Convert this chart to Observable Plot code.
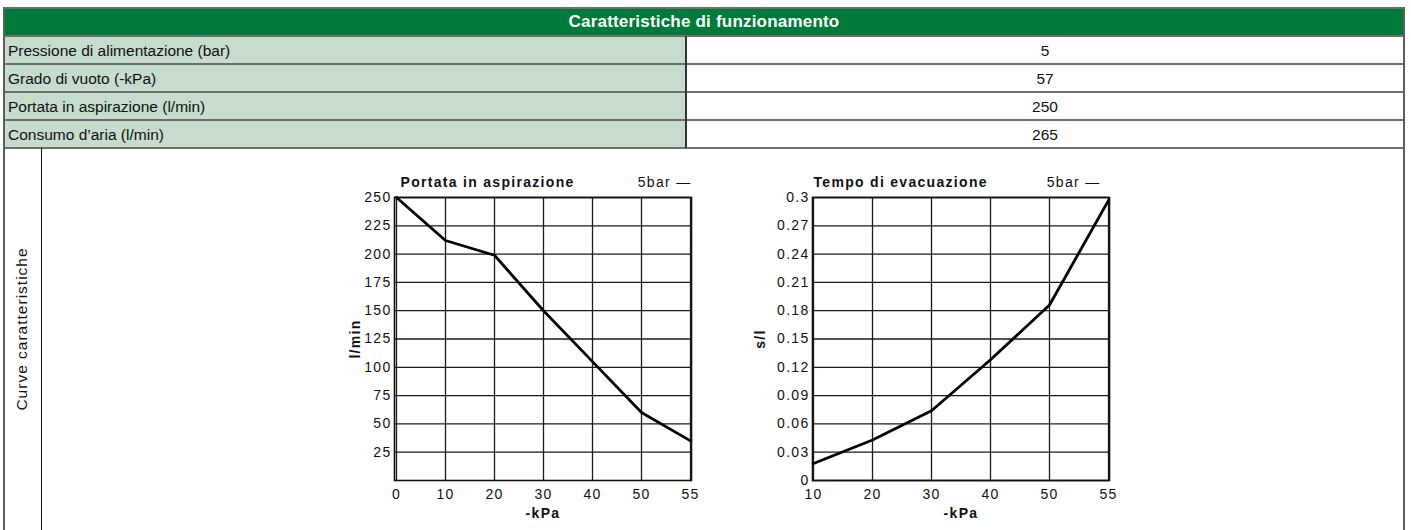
<!DOCTYPE html>
<html><head><meta charset="utf-8">
<script src="https://cdn.jsdelivr.net/npm/d3@7"></script>
<script src="https://cdn.jsdelivr.net/npm/@observablehq/plot@0.6"></script>
<style>
html,body{margin:0;padding:0;background:#fff;overflow:hidden;width:1411px;height:530px}
body{position:relative;font-family:"Liberation Sans",Arial,Helvetica,sans-serif;color:#111}
.box{position:absolute;box-sizing:border-box}
.txt{position:absolute;white-space:nowrap;font-size:15.5px;letter-spacing:0px;line-height:28px}
.hl{position:absolute;height:2px;background:#6e6e6e}
.vl{position:absolute;width:2px;background:#5e5e5e}
.chart{position:absolute;top:165px}
.chart svg text{letter-spacing:1.3px}
</style>
</head><body>
<div id="root"></div>
<script>
// ---- data ----
const headerTitle = "Caratteristiche di funzionamento";
const specLabels = ["Pressione di alimentazione (bar)", "Grado di vuoto (-kPa)", "Portata in aspirazione (l/min)", "Consumo d\u2019aria (l/min)"];
const specValues = ["5", "57", "250", "265"];
const sideLabel = "Curve caratteristiche";

const kPa1 = [0, 10, 20, 30, 40, 50, 55];
const flow = [250, 212, 199, 150, 105, 60, 35];
const yTicks1 = [25, 50, 75, 100, 125, 150, 175, 200, 225, 250];

const kPa2 = [10, 20, 30, 40, 50, 55];
const evac = [0.018, 0.043, 0.074, 0.128, 0.186, 0.297];
const yTicks2 = [0, 0.03, 0.06, 0.09, 0.12, 0.15, 0.18, 0.21, 0.24, 0.27, 0.3];
const yTickLabels2 = ["0", "0.03", "0.06", "0.09", "0.12", "0.15", "0.18", "0.21", "0.24", "0.27", "0.3"];

// ---- table ----
const root = document.getElementById("root");
function el(cls, css, text) {
  const d = document.createElement("div");
  d.className = cls;
  Object.assign(d.style, css);
  if (text != null) d.textContent = text;
  root.appendChild(d);
  return d;
}
const L = 4, R = 1404, DIV = 686, TOP = 8, RH = 28;
el("box", {left: L + "px", top: TOP + "px", width: (R - L) + "px", height: RH + "px", background: "#007a3a"});
el("txt", {left: L + "px", width: (R - L) + "px", top: TOP + "px", textAlign: "center", color: "#fff", fontWeight: "bold", fontSize: "17px", letterSpacing: "0.2px"}, headerTitle);
specLabels.forEach((lab, i) => {
  const y = TOP + RH * (i + 1);
  el("box", {left: L + "px", top: y + "px", width: (DIV - L) + "px", height: RH + "px", background: "#c6dccd"});
  el("txt", {left: (L + 4) + "px", top: (y + 1) + "px"}, lab);
  el("txt", {left: DIV + "px", width: (R - DIV) + "px", top: (y + 1) + "px", textAlign: "center"}, specValues[i]);
});
for (let i = 0; i <= specLabels.length + 1; i++) {
  el("hl", {left: L + "px", width: (R - L + 1) + "px", top: (TOP + RH * i - 1) + "px"});
}
el("vl", {left: (L - 1) + "px", top: (TOP - 1) + "px", height: "540px"});
el("vl", {left: (R - 1) + "px", top: (TOP - 1) + "px", height: "540px"});
el("vl", {left: (DIV - 1) + "px", top: (TOP + RH) + "px", height: (RH * 4) + "px", background: "#333"});
el("box", {left: "41px", top: (TOP + RH * 5) + "px", width: "1px", height: "400px", background: "#111"});
el("txt", {left: "22px", top: "329px", transform: "translate(-50%,-50%) rotate(-90deg)", lineHeight: "18px", letterSpacing: "1px"}, sideLabel);

// ---- charts ----
const FONT = "'Liberation Sans', Arial, Helvetica, sans-serif";
function chart({xs, ys, yTicks, yFmt, title, ylabel, width, ml, mr, titleDx, legendDx, ylabelDx, left}) {
  const data = xs.map((x, i) => ({x, y: ys[i]}));
  const p = Plot.plot({
    width, height: 365,
    marginLeft: ml, marginRight: mr, marginTop: 32, marginBottom: 50,
    style: {fontFamily: FONT, fontSize: "14px", color: "#111", background: "transparent", overflow: "visible"},
    x: {type: "point", domain: xs, padding: 0, label: null},
    y: {domain: [0, yTicks[yTicks.length - 1]], label: null},
    marks: [
      Plot.ruleX(xs, {x: d => d, stroke: "#1a1a1a", strokeWidth: 1.3}),
      Plot.ruleY(yTicks, {y: d => d, stroke: "#1a1a1a", strokeWidth: 1.3}),
      Plot.frame({stroke: "#111", strokeWidth: 1.6}),
      Plot.line(data, {x: "x", y: "y", stroke: "#000", strokeWidth: 2.8, strokeLinejoin: "miter"}),
      Plot.axisX({tickSize: 0, tickPadding: 9, fontSize: 14}),
      Plot.axisY({ticks: yTicks, tickSize: 0, tickPadding: 3, tickFormat: yFmt, fontSize: 14}),
      Plot.text([title], {text: d => d, frameAnchor: "top-left", dx: titleDx, dy: -15, lineAnchor: "middle", textAnchor: "start", fontWeight: "bold", fontSize: 14}),
      Plot.text(["5bar \u2014"], {text: d => d, frameAnchor: "top-right", dx: legendDx, dy: -15, lineAnchor: "middle", textAnchor: "end", fontSize: 14}),
      Plot.text(["-kPa"], {text: d => d, frameAnchor: "bottom", dy: 33, lineAnchor: "middle", textAnchor: "middle", fontWeight: "bold", fontSize: 14}),
      Plot.text([ylabel], {text: d => d, frameAnchor: "left", dx: ylabelDx, rotate: -90, lineAnchor: "middle", textAnchor: "middle", fontWeight: "bold", fontSize: 14})
    ]
  });
  const wrap = document.createElement("div");
  wrap.className = "chart";
  wrap.style.left = left + "px";
  wrap.appendChild(p);
  root.appendChild(wrap);
}
const fmt2 = new Map(yTicks2.map((t, i) => [t, yTickLabels2[i]]));
chart({xs: kPa1, ys: flow, yTicks: yTicks1, yFmt: d => String(d), title: "Portata in aspirazione", ylabel: "l/min",
  width: 380, ml: 64, mr: 19, titleDx: 6, legendDx: 0, ylabelDx: -39, left: 330});
chart({xs: kPa2, ys: evac, yTicks: yTicks2, yFmt: d => fmt2.get(d), title: "Tempo di evacuazione", ylabel: "s/l",
  width: 400, ml: 82, mr: 21, titleDx: 1, legendDx: -9, ylabelDx: -52, left: 730});
</script>
</body></html>
